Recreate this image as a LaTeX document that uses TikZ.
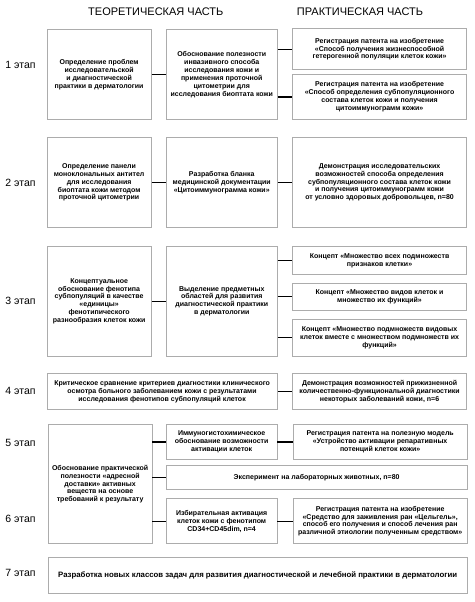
\documentclass[tikz,border=0pt]{standalone}
\usepackage{fontspec}
\setmainfont{Liberation Sans}

\begin{document}
\begin{tikzpicture}[x=1pt,y=-1pt,
	box/.style={draw=gray!65, line width=0.8pt, align=center, inner sep=0pt, anchor=north west,
		font=\bfseries\fontsize{7}{7.9}\selectfont},
	link/.style={line width=1.3pt},
	stage/.style={font=\fontsize{10.5}{12}\selectfont},
	head/.style={font=\fontsize{11}{13}\selectfont}]
	\newcommand{\colA}{46.7}
	\newcommand{\colB}{166}
	\newcommand{\colC}{292.3}
	
	\useasboundingbox (0,0) rectangle (474,602);	% page
	
	% column heads
	\node[head] (theory) at (155.8,12) {ТЕОРЕТИЧЕСКАЯ ЧАСТЬ};
	\node[head] (practice) at (360,12) {ПРАКТИЧЕСКАЯ ЧАСТЬ};
	
	% stages
	\node[stage] (s1) at (20.5,65) {1 этап};
	\node[stage] (s2) at (20.5,183) {2 этап};
	\node[stage] (s3) at (20.5,300.7) {3 этап};
	\node[stage] (s4) at (20.5,391) {4 этап};
	\node[stage] (s5) at (20.5,443) {5 этап};
	\node[stage] (s6) at (20.5,519) {6 этап};
	\node[stage] (s7) at (20.5,573.3) {7 этап};
	
	% 1 stage
	\node[box, minimum width=104pt, minimum height=89.7pt] (a1) at (\colA,29.3)
		{Определение проблем\\исследовательской\\и диагностической\\практики в дерматологии};
	\node[box, minimum width=110.7pt, minimum height=89.7pt] (b1) at (\colB,29.3)
		{Обоснование полезности\\инвазивного способа\\исследования кожи и\\применения проточной\\цитометрии для\\исследования биоптата кожи};
	\node[box, minimum width=173.7pt, minimum height=41pt] (c1a) at (\colC,28.3)
		{Регистрация патента на изобретение\\«Способ получения жизнеспособной\\гетерогенной популяции клеток кожи»};
	\node[box, minimum width=173.7pt, minimum height=45pt] (c1b) at (\colC,74)
		{Регистрация патента на изобретение\\«Способ определения субпопуляционного\\состава клеток кожи и получения\\цитоиммунограмм кожи»};
	\draw[link] (a1) -- (b1);
	\draw[link] (b1.east |- c1a) -- (c1a.west);
	\draw[link] (b1.east |- c1b) -- (c1b.west);
	
	% 2 stage
	\node[box, minimum width=104pt, minimum height=89.4pt] (a2) at (\colA,137.3)
		{Определение панели\\моноклональных антител\\для исследования\\биоптата кожи методом\\проточной цитометрии};
	\node[box, minimum width=110.7pt, minimum height=89.4pt] (b2) at (\colB,137.3)
		{Разработка бланка\\медицинской документации\\«Цитоиммунограмма кожи»};
	\node[box, minimum width=173.7pt, minimum height=89.4pt] (c2) at (\colC,137.3)
		{Демонстрация исследовательских\\возможностей способа определения\\субпопуляционного состава клеток кожи\\и получения цитоиммунограмм кожи\\от условно здоровых добровольцев, n=80};
	\draw[link] (a2) -- (b2);
	\draw[link] (b2) -- (c2);
	
	% 3 stage
	\node[box, minimum width=104pt, minimum height=109.7pt] (a3) at (\colA,246)
		{Концептуальное\\обоснование фенотипа\\субпопуляций в качестве\\«единицы»\\фенотипического\\разнообразия клеток кожи};
	\node[box, minimum width=110.7pt, minimum height=109.7pt] (b3) at (\colB,246)
		{Выделение предметных\\областей для развития\\диагностической практики\\в дерматологии};
	\node[box, minimum width=173.7pt, minimum height=28pt] (c3a) at (\colC,246)
		{Концепт «Множество всех подмножеств\\признаков клетки»};
	\node[box, minimum width=173.7pt, minimum height=27.3pt] (c3b) at (\colC,282.7)
		{Концепт «Множество видов клеток и\\множество их функций»};
	\node[box, minimum width=173.7pt, minimum height=36.7pt] (c3c) at (\colC,319)
		{Концепт «Множество подмножеств видовых\\клеток вместе с множеством подмножеств их\\функций»};
	\draw[link] (a3) -- (b3);
	\draw[link] (b3.east |- c3a) -- (c3a.west);
	\draw[link] (b3.east |- c3b) -- (c3b.west);
	\draw[link] (b3.east |- c3c) -- (c3c.west);
	
	% 4 stage
	\node[box, minimum width=230pt, minimum height=36pt] (a4) at (\colA,373.3)
		{Критическое сравнение критериев диагностики клинического\\осмотра больного заболеванием кожи с результатами\\исследования фенотипов субпопуляций клеток};
	\node[box, minimum width=173.7pt, minimum height=36pt] (c4) at (\colC,373.3)
		{Демонстрация возможностей прижизненной\\количественно-функциональной диагностики\\некоторых заболеваний кожи, n=6};
	\draw[link] (a4) -- (c4);
	
	% 5 and 6 stage
	\node[box, minimum width=103.5pt, minimum height=119pt] (a5) at (48,424.3)
		{Обоснование практической\\полезности «адресной\\доставки» активных\\веществ на основе\\требований к результату};
	\node[box, minimum width=110.5pt, minimum height=34.7pt] (b5) at (\colB,424.3)
		{Иммуногистохимическое\\обоснование возможности\\активации клеток};
	\node[box, minimum width=173.5pt, minimum height=34.7pt] (c5) at (293,424.3)
		{Регистрация патента на полезную модель\\«Устройство активации репаративных\\потенций клеток кожи»};
	\node[box, minimum width=300.5pt, minimum height=24pt] (e5) at (\colB,465)
		{Эксперимент на лабораторных животных, n=80};
	\node[box, minimum width=110.5pt, minimum height=45pt] (b6) at (\colB,498.3)
		{Избирательная активация\\клеток кожи с фенотипом\\CD34+CD45dim, n=4};
	\node[box, minimum width=173.5pt, minimum height=45pt] (c6) at (293,498.3)
		{Регистрация патента на изобретение\\«Средство для заживления ран «Цельгель»,\\способ его получения и способ лечения ран\\различной этиологии полученным средством»};
	\draw[link] (a5.east |- b5) -- (b5.west);
	\draw[link] (a5.east |- e5) -- (e5.west);
	\draw[link] (a5.east |- b6) -- (b6.west);
	\draw[link] (b5) -- (c5);
	\draw[link] (b6) -- (c6);
	
	% 7 stage
	\node[box, minimum width=418.5pt, minimum height=36pt, font=\bfseries\fontsize{7.8}{9}\selectfont] (f7) at (48,556.7)
		{Разработка новых классов задач для развития диагностической и лечебной практики в дерматологии};
\end{tikzpicture}
\end{document}
